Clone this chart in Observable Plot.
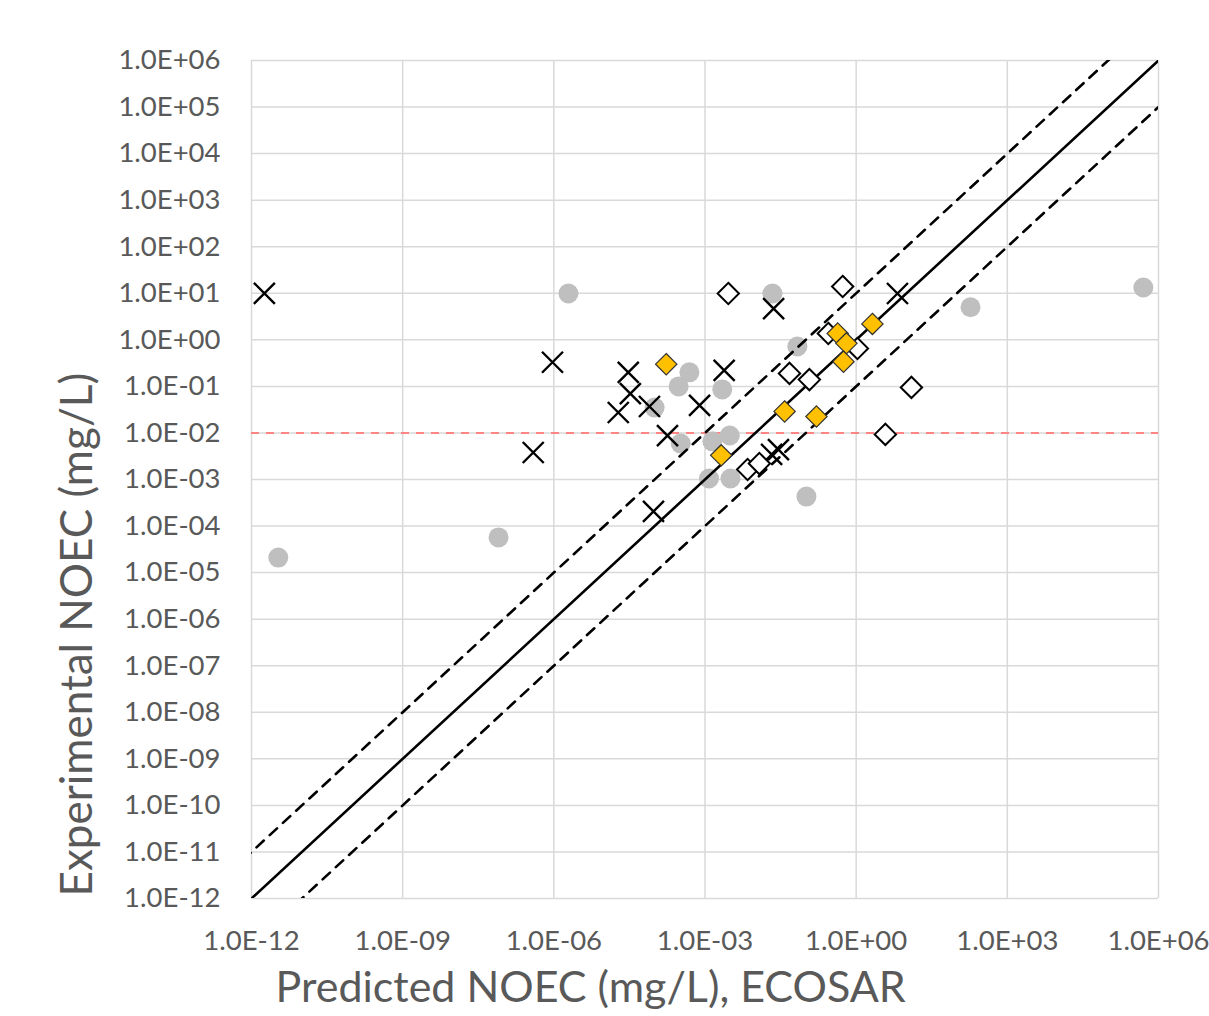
<!DOCTYPE html>
<html>
<head>
<meta charset="utf-8">
<script src="https://cdn.jsdelivr.net/npm/d3@7"></script>
<script src="https://cdn.jsdelivr.net/npm/@observablehq/plot@0.6"></script>
<style>
  html, body { margin: 0; padding: 0; background: #fff; }
  #chart svg { display: block; }
</style>
</head>
<body>
<div id="chart"></div>
<script>
// ---- Data ----
// Series 1: crosses (x markers)
const crossPred = [1.8e-12, 9.4e-7, 3.9e-7, 3.0e-5, 3.3e-5, 1.9e-5, 7.9e-5, 1.8e-4, 7.8e-4, 2.4e-3, 0.023, 9.5e-5, 0.021, 0.0287, 6.6];
const crossExp  = [10, 0.33, 0.0038, 0.20, 0.070, 0.0275, 0.037, 0.0088, 0.039, 0.22, 4.7, 2.06e-4, 0.00345, 0.0044, 9.9];

// Series 2: grey circles
const circlePred = [3.4e-12, 8.0e-8, 1.95e-6, 0.0218, 0.068, 4.9e-4, 3.0e-4, 2.2e-3, 1.0e-4, 3.3e-4, 1.4e-3, 3.1e-3, 1.2e-3, 3.2e-3, 0.103, 186, 5.0e5];
const circleExp  = [2.1e-5, 5.7e-5, 9.9, 9.9, 0.72, 0.20, 0.10, 0.086, 0.035, 0.0059, 0.0066, 0.0088, 1.05e-3, 1.05e-3, 4.3e-4, 5.0, 13.3];

// Series 3: open diamonds
const openPred = [2.9e-3, 0.54, 0.28, 1.06, 0.0475, 0.118, 12.5, 3.8, 7.0e-3, 0.012];
const openExp  = [9.9, 14, 1.37, 0.65, 0.19, 0.14, 0.095, 0.0093, 1.64e-3, 2.2e-3];

// Series 4: orange diamonds
const orangePred = [1.7e-4, 2.1e-3, 0.038, 0.163, 0.43, 0.64, 0.56, 2.1];
const orangeExp  = [0.30, 3.3e-3, 0.029, 0.0226, 1.37, 0.84, 0.34, 2.2];

// Reference lines: 1:1 line and factor-of-10 bands
const lineFactors = [1, 10, 0.1];
const lineStyles = ["solid", "dashed", "dashed"];
const thresholdNOEC = [0.01];

// Axis ticks
const domainLo = 1e-12, domainHi = 1e6;
const xTickExps = [-12, -9, -6, -3, 0, 3, 6];
const yTickExps = d3.range(-12, 7);

const xLabel = "Predicted NOEC (mg/L), ECOSAR";
const yLabel = "Experimental NOEC (mg/L)";

// ---- Build tables ----
const toRows = (xs, ys) => xs.map((x, i) => ({x, y: ys[i]}));
const crosses = toRows(crossPred, crossExp);
const circles = toRows(circlePred, circleExp);
const opens = toRows(openPred, openExp);
const oranges = toRows(orangePred, orangeExp);
const xTicks = xTickExps.map(e => Math.pow(10, e));
const yTicks = yTickExps.map(e => Math.pow(10, e));

const fmt = d => {
  const e = Math.round(Math.log10(d));
  return "1.0E" + (e < 0 ? "-" : "+") + String(Math.abs(e)).padStart(2, "0");
};

// diagonal lines extended beyond the frame, clipped
const diag = lineFactors.map((f, i) => ({
  f, style: lineStyles[i],
  pts: [{x: domainLo / 100, y: domainLo / 100 * f}, {x: domainHi * 100, y: domainHi * 100 * f}]
}));

const textColor = "#595959";
const font = "Lato, 'Open Sans', sans-serif";

const chart = Plot.plot({
  width: 1209,
  height: 1016,
  marginLeft: 251,
  marginRight: 51,
  marginTop: 60,
  marginBottom: 118,
  style: {fontFamily: font, color: textColor, background: "#fff"},
  x: {type: "log", domain: [domainLo, domainHi]},
  y: {type: "log", domain: [domainLo, domainHi]},
  marks: [
    Plot.gridX(xTicks, {stroke: "#d9d9d9", strokeOpacity: 1, strokeWidth: 1.5}),
    Plot.gridY(yTicks, {stroke: "#d9d9d9", strokeOpacity: 1, strokeWidth: 1.5}),
    Plot.axisX(xTicks, {tickSize: 0, tickPadding: 32, tickFormat: fmt, fontSize: 27.5, label: null, fill: textColor}),
    Plot.axisY(yTicks, {tickSize: 0, tickPadding: 31, tickFormat: fmt, fontSize: 27.5, label: null, fill: textColor}),
    Plot.ruleY(thresholdNOEC, {stroke: "#ff8585", strokeWidth: 2, strokeDasharray: "8,7"}),
    Plot.dot(circles, {x: "x", y: "y", r: 10, fill: "#bfbfbf", stroke: "none"}),
    ...diag.map(d => Plot.line(d.pts, {x: "x", y: "y", stroke: "#000", strokeWidth: 2.6,
      strokeDasharray: d.style === "dashed" ? "10,8" : null, clip: true})),
    Plot.dot(crosses, {x: "x", y: "y", symbol: "times", r: 9.6, stroke: "#000", strokeWidth: 2.4}),
    Plot.dot(opens, {x: "x", y: "y", symbol: "diamond2", r: 9.6, fill: "#fff", stroke: "#000", strokeWidth: 2}),
    Plot.dot(oranges, {x: "x", y: "y", symbol: "diamond2", r: 9.6, fill: "#ffc000", stroke: "#333", strokeWidth: 1.2}),
    Plot.text([yLabel], {frameAnchor: "bottom-left", text: d => d, rotate: -90, textAnchor: "start",
      dx: -160, dy: -2, fontSize: 44, fill: textColor}),
    Plot.text([xLabel], {frameAnchor: "bottom-left", text: d => d, textAnchor: "start",
      dx: 24, dy: 103, fontSize: 43, fill: textColor})
  ]
});
document.getElementById("chart").appendChild(chart);
</script>
</body>
</html>
